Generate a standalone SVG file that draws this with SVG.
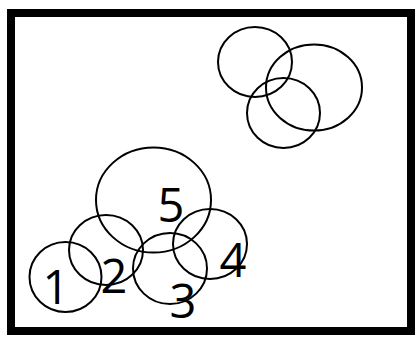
<svg xmlns="http://www.w3.org/2000/svg" width="418" height="338" viewBox="0 0 418 338">
<style>
.c{fill:none;stroke:#000;stroke-width:2}
.t{font-family:"Open Sans","Noto Sans",sans-serif;font-size:47px;fill:#000;text-anchor:middle}
</style>
<rect x="0" y="0" width="418" height="338" fill="#fff"/>
<rect x="11" y="13" width="400" height="318" fill="none" stroke="#000" stroke-width="8"/>
<g id="connectors"></g>
<g id="e-a"><ellipse class="c" cx="255" cy="62" rx="37" ry="35"/></g>
<g id="e-b"><ellipse class="c" cx="314" cy="87.5" rx="48" ry="43"/></g>
<g id="e-c"><ellipse class="c" cx="283.5" cy="113" rx="36.5" ry="35"/></g>
<g id="n5"><ellipse class="c" cx="153.5" cy="200" rx="57.5" ry="52.5"/><text class="t" x="171" y="222">5</text></g>
<g id="n1"><ellipse class="c" cx="65.5" cy="277" rx="36" ry="35"/><text class="t" x="56" y="304">1</text></g>
<g id="n2"><ellipse class="c" cx="106" cy="250" rx="37" ry="35"/><text class="t" x="114" y="293">2</text></g>
<g id="n3"><ellipse class="c" cx="170" cy="268.5" rx="37" ry="35.5"/><text class="t" x="183" y="318">3</text></g>
<g id="n4"><ellipse class="c" cx="210" cy="244" rx="37" ry="35"/><text class="t" x="233" y="277">4</text></g>
</svg>
